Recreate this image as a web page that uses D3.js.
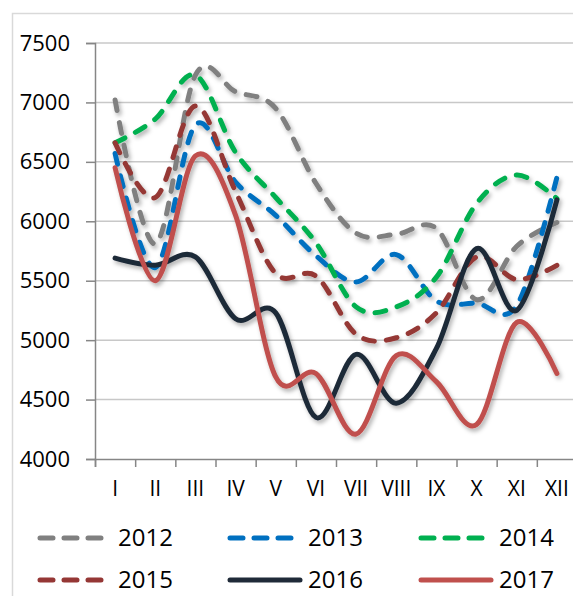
<!DOCTYPE html>
<html>
<head>
<meta charset="utf-8">
<script src="https://cdn.jsdelivr.net/npm/d3@7"></script>
<style>
  html, body { margin: 0; padding: 0; background: #fff; }
  svg { display: block; }
</style>
</head>
<body>
<div id="chart"></div>
<script>
// months and y ticks
const months = ["I", "II", "III", "IV", "V", "VI", "VII", "VIII", "IX", "X", "XI", "XII"];
const yTicks = [4000, 4500, 5000, 5500, 6000, 6500, 7000, 7500];

// series values
const v2012 = [7020, 5810, 7230, 7090, 6950, 6320, 5900, 5890, 5940, 5340, 5790, 5990];
const v2013 = [6570, 5610, 6810, 6330, 6050, 5710, 5490, 5720, 5330, 5310, 5290, 6370];
const v2014 = [6660, 6860, 7230, 6580, 6200, 5820, 5280, 5280, 5530, 6150, 6390, 6190];
const v2015 = [6660, 6200, 6970, 6250, 5560, 5540, 5050, 5020, 5230, 5700, 5510, 5630];
const v2016 = [5690, 5630, 5700, 5180, 5230, 4350, 4880, 4470, 4930, 5770, 5250, 6180];
const v2017 = [6450, 5500, 6550, 6050, 4690, 4720, 4210, 4870, 4650, 4290, 5150, 4720];

const years = ["2012", "2013", "2014", "2015", "2016", "2017"];
const seriesValues = [v2012, v2013, v2014, v2015, v2016, v2017];
const colors = ["#808080", "#0070c0", "#00b050", "#953735", "#1f2a38", "#c0504d"];
const dashed = [true, true, true, true, false, false];

const width = 573, height = 596;
const margin = {top: 43, left: 95, bottom: 459};
const plotRight = 577;

const svg = d3.select("#chart").append("svg")
  .attr("width", width)
  .attr("height", height)
  .style("font-family", "'Open Sans', sans-serif");

const defs = svg.append("defs");
const shadow = defs.append("filter")
  .attr("id", "shadow")
  .attr("x", "-10%").attr("y", "-10%")
  .attr("width", "130%").attr("height", "130%");
shadow.append("feDropShadow")
  .attr("dx", 2).attr("dy", 3)
  .attr("stdDeviation", 2)
  .attr("flood-color", "#000")
  .attr("flood-opacity", 0.3);

// outer chart border
svg.append("path")
  .attr("d", `M12.5,${height} V13.5 H${width}`)
  .attr("fill", "none")
  .attr("stroke", "#d9d9d9")
  .attr("stroke-width", 1.5);

const x = d3.scaleBand().domain(months).range([margin.left, plotRight]);
const xEdge = d3.scaleLinear().domain([0, 12]).range([margin.left, plotRight]);
const y = d3.scaleLinear().domain([4000, 7500]).range([margin.bottom, margin.top]);

// gridlines
svg.append("g")
  .selectAll("line")
  .data(yTicks.slice(1))
  .join("line")
  .attr("x1", margin.left)
  .attr("x2", width)
  .attr("y1", d => y(d))
  .attr("y2", d => y(d))
  .attr("stroke", "#c8c8c8")
  .attr("stroke-width", 1.5);

// y axis
svg.append("g")
  .attr("transform", `translate(${margin.left},0)`)
  .call(d3.axisLeft(y).tickValues(yTicks).tickSize(9).tickPadding(16).tickFormat(d3.format("d")))
  .call(g => g.select(".domain").attr("stroke", "#868686").attr("stroke-width", 1.5))
  .call(g => g.selectAll(".tick line").attr("stroke", "#868686").attr("stroke-width", 1.5))
  .call(g => g.selectAll(".tick text").attr("fill", "#000").style("font-size", "22px"))
  .call(g => g.attr("font-family", null));

// x axis: ticks on band edges
svg.append("g")
  .attr("transform", `translate(0,${margin.bottom})`)
  .call(d3.axisBottom(xEdge).tickValues(d3.range(13)).tickSize(8).tickFormat(""))
  .call(g => g.select(".domain").attr("stroke", "#868686").attr("stroke-width", 1.5))
  .call(g => g.selectAll(".tick line").attr("stroke", "#868686").attr("stroke-width", 1.5));

svg.append("g")
  .attr("transform", `translate(0,${margin.bottom})`)
  .call(d3.axisBottom(x).tickSize(0).tickPadding(22))
  .call(g => g.select(".domain").remove())
  .call(g => g.selectAll(".tick text").attr("fill", "#000").style("font-size", "21px"))
  .call(g => g.attr("font-family", null));

// lines
const line = d3.line()
  .x((d, i) => x(months[i]) + x.bandwidth() / 2)
  .y(d => y(d))
  .curve(d3.curveCardinal.tension(0));

svg.append("g")
  .attr("filter", "url(#shadow)")
  .selectAll("path")
  .data(seriesValues)
  .join("path")
  .attr("d", d => line(d))
  .attr("fill", "none")
  .attr("stroke", (d, i) => colors[i])
  .attr("stroke-width", 5)
  .attr("stroke-linecap", "round")
  .attr("stroke-dasharray", (d, i) => dashed[i] ? "11,12" : null);

// legend
const legendX = [40, 230, 421];
const legendY = [538, 580];
const legend = svg.append("g")
  .selectAll("g")
  .data(years)
  .join("g")
  .attr("transform", (d, i) => `translate(${legendX[i % 3]},${legendY[Math.floor(i / 3)]})`);

legend.append("line")
  .attr("x1", 0)
  .attr("x2", (d, i) => dashed[i] ? 64 : 70)
  .attr("stroke", (d, i) => colors[i])
  .attr("stroke-width", 5)
  .attr("stroke-linecap", "round")
  .attr("stroke-dasharray", (d, i) => dashed[i] ? "13,11" : null);

legend.append("text")
  .attr("x", 78)
  .attr("dy", "0.35em")
  .style("font-size", "24px")
  .attr("fill", "#000")
  .text(d => d);
</script>
</body>
</html>
